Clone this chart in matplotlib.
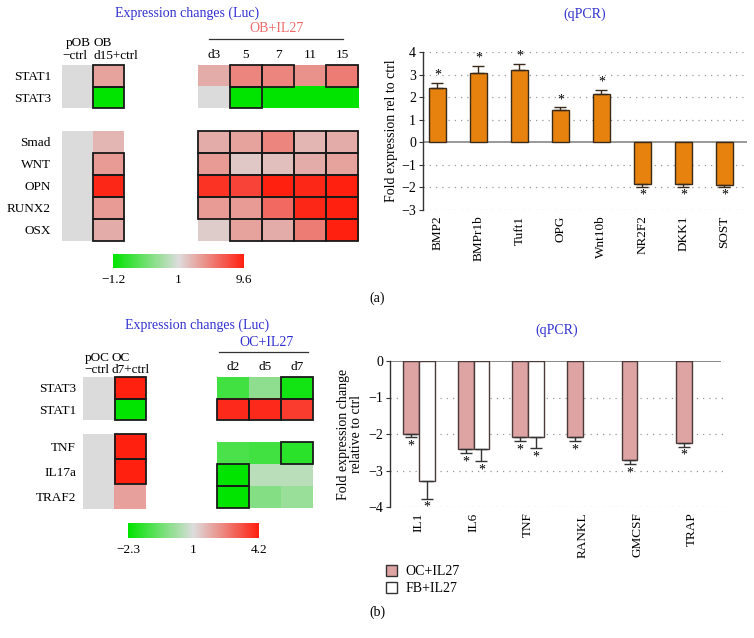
import numpy as np
import matplotlib
matplotlib.use('Agg')
import matplotlib.pyplot as plt
from matplotlib.colors import LinearSegmentedColormap, TwoSlopeNorm
from matplotlib.patches import Rectangle, Patch
from matplotlib.lines import Line2D
import matplotlib.cm as cm

plt.rcParams['font.family'] = ['Liberation Serif', 'DejaVu Serif']
plt.rcParams['font.size'] = 9

W, H = 754, 638

# ---- panel (a) heatmaps (Luc) ----
a_top_genes = ['STAT1', 'STAT3']
a_bot_genes = ['Smad', 'WNT', 'OPN', 'RUNX2', 'OSX']
a_ctrl_cols = [('pOB', '\u2212ctrl'), ('OB', 'd15+ctrl')]
a_days = ['d3', '5', '7', '11', '15']
a_ctrl_top = [[1, 3.6], [1, -1.2]]
a_ctrl_bot = [[1, 2.7], [1, 4.0], [1, 9.2], [1, 4.0], [1, 3.2]]
a_il27_top = [[3.2, 4.9, 4.9, 4.4, 5.3],
              [1.0, -1.2, -1.2, -1.2, -1.2]]
a_il27_bot = [[3.2, 3.6, 4.9, 2.7, 3.2],
              [4.0, 1.9, 2.3, 3.2, 3.6],
              [8.7, 7.9, 9.6, 9.2, 9.6],
              [4.0, 4.0, 6.2, 9.2, 9.6],
              [1.7, 3.6, 3.2, 5.3, 9.6]]
a_ctrl_top_sig = [[0, 1], [0, 1]]
a_ctrl_bot_sig = [[0, 0], [0, 1], [0, 1], [0, 1], [0, 1]]
a_il27_top_sig = [[0, 1, 1, 0, 1], [0, 1, 0, 0, 0]]
a_il27_bot_sig = [[1, 1, 1, 1, 1], [1, 1, 1, 1, 1], [1, 1, 1, 1, 1],
                  [1, 1, 1, 1, 1], [0, 1, 1, 1, 1]]
a_range = (-1.2, 1, 9.6)

# ---- panel (b) heatmaps (Luc) ----
b_top_genes = ['STAT3', 'STAT1']
b_bot_genes = ['TNF', 'IL17a', 'TRAF2']
b_ctrl_cols = [('pOC', '\u2212ctrl'), ('OC', 'd7+ctrl')]
b_days = ['d2', 'd5', 'd7']
b_ctrl_top = [[1, 4.2], [1, -2.3]]
b_ctrl_bot = [[1, 4.2], [1, 4.2], [1, 2.0]]
b_il27_top = [[-1.3, -0.15, -2.0], [4.0, 4.0, 3.7]]
b_il27_bot = [[-1.15, -1.3, -1.65], [-2.3, 0.5, 0.5], [-2.3, -0.3, 0.0]]
b_ctrl_top_sig = [[0, 1], [0, 1]]
b_ctrl_bot_sig = [[0, 1], [0, 1], [0, 0]]
b_il27_top_sig = [[0, 0, 1], [1, 1, 1]]
b_il27_bot_sig = [[0, 0, 1], [1, 0, 0], [1, 0, 0]]
b_range = (-2.3, 1, 4.2)

# ---- qPCR bars ----
a_genes = ['BMP2', 'BMPr1b', 'Tuft1', 'OPG', 'Wnt10b', 'NR2F2', 'DKK1', 'SOST']
a_fold = [2.42, 3.09, 3.21, 1.43, 2.15, -1.86, -1.86, -1.91]
a_err = [0.22, 0.30, 0.27, 0.12, 0.18, 0.14, 0.14, 0.09]

b_genes = ['IL1', 'IL6', 'TNF', 'RANKL', 'GMCSF', 'TRAP']
b_oc = [-2.0, -2.4, -2.09, -2.09, -2.72, -2.25]
b_oc_err = [0.08, 0.12, 0.11, 0.11, 0.11, 0.10]
b_fb = [-3.3, -2.4, -2.09, 0, 0, 0]
b_fb_err = [0.47, 0.34, 0.30, 0, 0, 0]

cmap = LinearSegmentedColormap.from_list('gr', ['#00e400', '#dcdcdc', '#ff2010'])
BLUE = '#3030d0'


def box(x0, y0, x1, y1):
    return [x0 / W, 1 - y1 / H, (x1 - x0) / W, (y1 - y0) / H]


def ftext(x, y, s, **kw):
    kw.setdefault('fontsize', 9.5)
    kw.setdefault('ha', 'center')
    kw.setdefault('va', 'center')
    return fig.text(x / W, 1 - y / H, s, **kw)


def heat(fig, rect, vals, sig, norm, rows=None, cols=None, rowpad=8):
    ax = fig.add_axes(box(*rect))
    vals = np.array(vals)
    ax.imshow(vals, cmap=cmap, norm=norm, aspect='auto', interpolation='nearest')
    for r in range(vals.shape[0]):
        for c in range(vals.shape[1]):
            if sig[r][c]:
                ax.add_patch(Rectangle((c - 0.5, r - 0.5), 1, 1, fill=False,
                                       ec='#1a1a1a', lw=1.3, clip_on=False, zorder=3))
    for s in ax.spines.values():
        s.set_visible(False)
    ax.tick_params(length=0)
    if rows:
        ax.set_yticks(range(len(rows)))
        ax.set_yticklabels(rows, fontsize=9.5)
        ax.tick_params(axis='y', pad=rowpad)
    else:
        ax.set_yticks([])
    if cols:
        ax.xaxis.tick_top()
        ax.set_xticks(range(len(cols)))
        ax.set_xticklabels(cols, fontsize=9.5)
        ax.tick_params(axis='x', pad=3)
    else:
        ax.set_xticks([])
    return ax


def cbar(fig, rect, norm, lo, mid, hi):
    cax = fig.add_axes(box(*rect))
    sm = cm.ScalarMappable(norm=norm, cmap=cmap)
    cb = fig.colorbar(sm, cax=cax, orientation='horizontal', ticks=[lo, mid, hi])
    cb.outline.set_visible(False)
    cb.ax.tick_params(length=0, labelsize=9.5, pad=4)
    cb.ax.set_xticklabels([f'{lo:g}'.replace('-', '\u2212'), f'{mid:g}', f'{hi:g}'])


def style_bar_ax(ax):
    for s in ['top', 'right', 'bottom']:
        ax.spines[s].set_visible(False)
    ax.spines['left'].set_color('#333333')
    ax.spines['left'].set_linewidth(1)
    ax.tick_params(axis='y', length=3, width=0.8, color='#333333', labelsize=10, pad=2)
    ax.tick_params(axis='x', length=0, labelsize=9.5, pad=4)


fig = plt.figure(figsize=(W / 100, H / 100), dpi=100)
fig.patch.set_facecolor('white')

# ===================== panel (a) =====================
norm_a = TwoSlopeNorm(vmin=a_range[0], vcenter=a_range[1], vmax=a_range[2])
heat(fig, (62, 65, 124, 108), a_ctrl_top, a_ctrl_top_sig, norm_a, rows=a_top_genes)
heat(fig, (62, 131, 124, 241), a_ctrl_bot, a_ctrl_bot_sig, norm_a, rows=a_bot_genes)
heat(fig, (198, 65, 358, 108), a_il27_top, a_il27_top_sig, norm_a, cols=a_days)
heat(fig, (198, 131, 358, 241), a_il27_bot, a_il27_bot_sig, norm_a)
cbar(fig, (113, 254, 244, 268), norm_a, *a_range)

# control column headers
ftext(78, 43, a_ctrl_cols[0][0])
ftext(75, 56, a_ctrl_cols[0][1])
ftext(94, 43, a_ctrl_cols[1][0], ha='left')
ftext(93, 56, a_ctrl_cols[1][1], ha='left')

ftext(187, 13, 'Expression changes (Luc)', color=BLUE, fontsize=10)
ftext(276, 29, 'OB+IL27', color='#f06a6a', fontsize=10)
fig.add_artist(Line2D([209 / W, 343 / W], [1 - 39 / H, 1 - 39 / H], color='#333333', lw=0.9))

axa = fig.add_axes(box(423, 52, 747, 210))
xa = np.arange(len(a_genes))
lo_a = [e if v < 0 else 0 for v, e in zip(a_fold, a_err)]
hi_a = [e if v > 0 else 0 for v, e in zip(a_fold, a_err)]
axa.bar(xa, a_fold, width=0.41, color='#e8820e', edgecolor='#3a2a1a', lw=1, zorder=3)
axa.errorbar(xa, a_fold, yerr=[lo_a, hi_a], fmt='none', ecolor='#3a2a1a', elinewidth=1,
             capsize=4, capthick=1, zorder=4)
for x, v, e in zip(xa, a_fold, a_err):
    if v > 0:
        axa.text(x, v + e + 0.05, '*', ha='center', va='bottom', fontsize=10)
    else:
        axa.text(x, v - e - 0.05, '*', ha='center', va='top', fontsize=10)
axa.set_xlim(-0.35, 7.55)
axa.set_ylim(-3, 4)
axa.set_yticks(range(-3, 5))
for yv in range(-3, 5):
    if yv != 0:
        axa.axhline(yv, color='#999999', lw=0.9, ls=(0, (1, 4)), zorder=1)
axa.axhline(0, color='#888888', lw=1.2, zorder=2)
axa.set_xticks(xa)
axa.set_xticklabels(a_genes, rotation=90)
axa.set_ylabel('Fold expression rel to ctrl', fontsize=10, labelpad=2)
style_bar_ax(axa)
ftext(585, 14, '(qPCR)', color=BLUE, fontsize=10)
ftext(377, 298, '(a)', fontsize=10)

# ===================== panel (b) =====================
norm_b = TwoSlopeNorm(vmin=b_range[0], vcenter=b_range[1], vmax=b_range[2])
heat(fig, (83, 377, 146, 420), b_ctrl_top, b_ctrl_top_sig, norm_b, rows=b_top_genes, rowpad=5)
heat(fig, (83, 434, 146, 509), b_ctrl_bot, b_ctrl_bot_sig, norm_b, rows=b_bot_genes, rowpad=5)
heat(fig, (217, 377, 313, 420), b_il27_top, b_il27_top_sig, norm_b, cols=b_days)
heat(fig, (217, 442, 313, 508), b_il27_bot, b_il27_bot_sig, norm_b)
cbar(fig, (128, 523, 259, 538), norm_b, *b_range)

ftext(97, 358, b_ctrl_cols[0][0])
ftext(96.5, 370, b_ctrl_cols[0][1])
ftext(111, 358, b_ctrl_cols[1][0], ha='left')
ftext(111, 370, b_ctrl_cols[1][1], ha='left')

ftext(197, 325, 'Expression changes (Luc)', color=BLUE, fontsize=10)
ftext(267, 342, 'OC+IL27', color=BLUE, fontsize=10)
fig.add_artist(Line2D([219 / W, 308 / W], [1 - 352 / H, 1 - 352 / H], color='#333333', lw=0.9))

axb = fig.add_axes(box(390, 361, 727, 507))
xb = np.arange(len(b_genes))
wb = 0.29
axb.bar(xb - wb / 2, b_oc, width=wb, color='#dea3a3', edgecolor='#4a3a3a', lw=1, zorder=3)
has_fb = [v != 0 for v in b_fb]
xfb = xb[has_fb]
fbv = np.array(b_fb)[has_fb]
fbe = np.array(b_fb_err)[has_fb]
axb.bar(xfb + wb / 2, fbv, width=wb, color='white', edgecolor='#4a3a3a', lw=1, zorder=3)
axb.errorbar(xb - wb / 2, b_oc, yerr=[b_oc_err, np.zeros(len(b_oc))], fmt='none',
             ecolor='#333333', elinewidth=1, capsize=4, capthick=1, zorder=4)
axb.errorbar(xfb + wb / 2, fbv, yerr=[fbe, np.zeros(len(fbv))], fmt='none',
             ecolor='#333333', elinewidth=1, capsize=4, capthick=1, zorder=4)
for x, v, e in zip(xb - wb / 2, b_oc, b_oc_err):
    axb.text(x, v - e - 0.06, '*', ha='center', va='top', fontsize=10)
for x, v, e in zip(xfb + wb / 2, fbv, fbe):
    axb.text(x, v - e - 0.06, '*', ha='center', va='top', fontsize=10)
axb.set_xlim(-0.53, 5.64)
axb.set_ylim(-4, 0)
axb.set_yticks(range(-4, 1))
for yv in range(-4, 0):
    axb.axhline(yv, color='#999999', lw=0.9, ls=(0, (1, 4)), zorder=1)
axb.axhline(0, color='#888888', lw=1.4, zorder=2, xmax=0.98)
axb.set_xticks(xb)
axb.set_xticklabels(b_genes, rotation=90)
axb.set_ylabel('Fold expression change\nrelative to ctrl', fontsize=10, labelpad=4,
               linespacing=1.0)
style_bar_ax(axb)
ftext(557, 330, '(qPCR)', color=BLUE, fontsize=10)
ftext(377, 612, '(b)', fontsize=10)

handles = [Patch(facecolor='#dea3a3', edgecolor='#333333', label='OC+IL27'),
           Patch(facecolor='white', edgecolor='#333333', label='FB+IL27')]
fig.legend(handles=handles, loc='upper left', bbox_to_anchor=(386 / W, 1 - 565 / H),
           frameon=False, fontsize=10, handlelength=0.8, handleheight=0.8,
           handletextpad=0.6, labelspacing=0.3, borderpad=0, borderaxespad=0)

fig.savefig('out.png', dpi=100, facecolor='white')
